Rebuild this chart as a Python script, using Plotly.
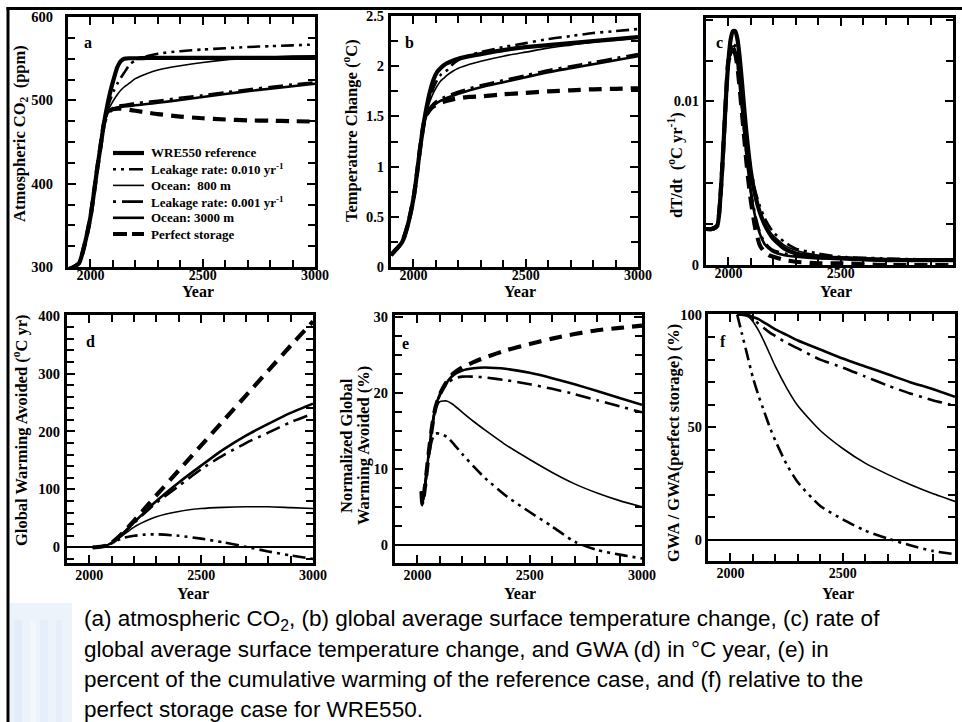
import plotly.graph_objects as go

W, H = 962, 722

# ---------------- data ----------------
YEARS_A = [1900, 1925, 1950, 1975, 2000, 2015, 2030, 2045, 2060, 2075, 2090, 2105, 2120, 2135,
           2150, 2175, 2200, 2250, 2300, 2400, 2500, 2600, 2700, 2800, 2900, 3000]
a_early = [297, 300, 305, 328, 360, 388, 418, 445, 472]
a_ref = a_early + [494, 512, 527, 540, 547, 550, 550.5, 550.5, 551, 551, 551, 551, 551, 551, 551, 551, 551]
a_leak010 = a_early + [490, 502, 512, 520, 527, 533, 543, 548, 553, 556, 559, 561, 562.5, 564, 565, 566, 567]
a_ocean800 = a_early + [486, 494, 501, 507, 512, 516, 521, 526, 532, 536.5, 541.5, 545.5, 548.5, 550.5, 552, 553, 553.5]
a_leak001 = a_early + [484, 489, 491.5, 493, 494, 494.5, 495.5, 496.5, 498, 499.5, 503, 506, 509.5, 513, 516, 519, 521.5]
a_ocean3000 = a_early + [484, 488.5, 490.5, 491.5, 492, 492.5, 493.2, 494, 495.5, 497, 500.5, 504, 507.5, 511, 514, 517, 520]
a_perfect = a_early + [483, 488, 489.5, 490, 490, 489.5, 488.5, 487.5, 485.5, 483.5, 480.5, 478.5, 477, 476, 475.5, 475, 474.5]

YEARS_B = YEARS_A
b_early = [0.12, 0.18, 0.25, 0.42, 0.68, 0.92, 1.19, 1.42]
b_ref = b_early + [1.61, 1.76, 1.87, 1.94, 1.98, 2.01, 2.03, 2.055, 2.075, 2.10, 2.12, 2.16, 2.19, 2.21, 2.23, 2.25, 2.27, 2.29]
b_leak010 = b_early + [1.57, 1.69, 1.79, 1.86, 1.91, 1.94, 1.96, 2.02, 2.06, 2.11, 2.14, 2.19, 2.23, 2.27, 2.30, 2.33, 2.35, 2.37]
b_ocean800 = b_early + [1.56, 1.66, 1.74, 1.80, 1.85, 1.88, 1.91, 1.95, 1.98, 2.02, 2.05, 2.10, 2.14, 2.18, 2.21, 2.24, 2.26, 2.28]
b_leak001 = b_early + [1.53, 1.59, 1.63, 1.655, 1.675, 1.69, 1.705, 1.725, 1.745, 1.78, 1.81, 1.86, 1.91, 1.96, 2.00, 2.04, 2.08, 2.12]
b_ocean3000 = b_early + [1.52, 1.575, 1.61, 1.635, 1.655, 1.67, 1.685, 1.705, 1.725, 1.76, 1.79, 1.84, 1.89, 1.94, 1.98, 2.02, 2.06, 2.10]
b_perfect = b_early + [1.52, 1.57, 1.60, 1.62, 1.635, 1.645, 1.655, 1.67, 1.68, 1.695, 1.70, 1.72, 1.735, 1.75, 1.76, 1.77, 1.775, 1.78]

YEARS_C = [1900, 1925, 1950, 1960, 1970, 1980, 1990, 2000, 2010, 2020, 2030, 2040, 2050, 2060, 2070,
           2080, 2090, 2100, 2120, 2140, 2160, 2180, 2200, 2250, 2300, 2400, 2500, 2700, 3000]
c_early = [0.0022, 0.0022, 0.0024, 0.0034, 0.0054, 0.0079, 0.0105, 0.0125]
c_ref = c_early + [0.0138, 0.0143, 0.0143, 0.0138, 0.0127, 0.0112, 0.0096, 0.0081, 0.0068, 0.0057, 0.0042,
                   0.0032, 0.0025, 0.0020, 0.0016, 0.0010, 0.0007, 0.0005, 0.0004, 0.0003, 0.0003]
c_leak010 = c_early + [0.0131, 0.0135, 0.0134, 0.0128, 0.0117, 0.0104, 0.0091, 0.0079, 0.0068, 0.0059, 0.0045,
                       0.0036, 0.0029, 0.0024, 0.0020, 0.0014, 0.0010, 0.0007, 0.0005, 0.0004, 0.0003]
c_ocean800 = c_early + [0.0130, 0.0134, 0.0132, 0.0126, 0.0114, 0.0101, 0.0088, 0.0075, 0.0064, 0.0055, 0.0041,
                        0.0032, 0.0026, 0.0021, 0.0018, 0.0012, 0.0009, 0.0006, 0.0005, 0.0004, 0.0003]
c_leak001 = c_early + [0.0129, 0.0132, 0.0130, 0.0123, 0.0111, 0.0097, 0.0082, 0.0068, 0.0056, 0.0045, 0.0030,
                       0.0020, 0.0014, 0.0011, 0.0009, 0.0007, 0.0006, 0.0005, 0.0004, 0.0003, 0.0003]
c_ocean3000 = c_early + [0.0129, 0.0132, 0.0130, 0.0123, 0.0110, 0.0096, 0.0081, 0.0067, 0.0055, 0.0044, 0.0029,
                         0.0019, 0.0013, 0.0010, 0.0008, 0.0006, 0.0005, 0.0004, 0.0004, 0.0003, 0.0003]
c_perfect = c_early + [0.0128, 0.0131, 0.0129, 0.0121, 0.0108, 0.0093, 0.0078, 0.0063, 0.0050, 0.0039, 0.0022,
                       0.0012, 0.0008, 0.0006, 0.0005, 0.0003, 0.0002, 0.0001, 0.0001, 0.0000, 0.0000]

YEARS_D = [2015, 2050, 2075, 2100, 2125, 2150, 2200, 2250, 2300, 2400, 2500, 2600, 2700, 2800, 2900, 3000]
d_perfect = [0, 1, 3, 8, 16, 25, 46, 68, 90, 133, 176, 219, 262, 305, 348, 390]
d_ocean3000 = [0, 1, 3, 8, 15.5, 24, 43, 62, 80, 112, 141, 169, 193, 213, 232, 248]
d_leak001 = [0, 1, 3, 8, 15.5, 24, 42, 60, 77, 106, 135, 159, 180, 198, 216, 231]
d_ocean800 = [0, 1, 3, 8, 14, 21, 35, 45, 53, 62, 67, 69, 70, 70, 68.5, 67]
d_leak010 = [0, 1, 3, 7, 12, 16, 20, 22, 22.5, 20, 15, 8.5, 1, -7, -14, -20]

YEARS_E = [2018, 2022, 2035, 2050, 2065, 2080, 2100, 2130, 2160, 2200, 2250, 2300, 2400, 2500, 2600,
           2700, 2800, 2900, 3000]
e_perfect = [7, 5.3, 8, 12, 15.5, 18, 19.8, 21.4, 22.5, 23.3, 24, 24.6, 25.6, 26.4, 27.1, 27.7, 28.2, 28.5, 28.8]
e_ocean3000 = [7, 5.3, 8, 12, 15.5, 18, 19.8, 21.3, 22.3, 22.9, 23.2, 23.3, 23.1, 22.6, 21.9, 21.1, 20.2, 19.3, 18.4]
e_leak001 = [7, 5.3, 8, 12, 15.5, 18, 19.7, 21.1, 21.8, 22.1, 22.1, 22.0, 21.6, 21.1, 20.5, 19.8, 19.0, 18.2, 17.4]
e_ocean800 = [7, 5.3, 8, 12, 15.3, 17.6, 18.8, 18.9, 18.4, 17.4, 16.2, 15.1, 13.0, 11.2, 9.5, 8.0, 6.8, 5.8, 5.0]
e_leak010 = [7, 5.3, 8, 11.5, 13.8, 14.6, 14.6, 14.2, 13.3, 11.9, 10.3, 8.8, 6.3, 4.3, 2.4, 0.4, -0.7, -1.3, -1.8]

YEARS_F = [2030, 2050, 2075, 2100, 2125, 2150, 2175, 2200, 2250, 2300, 2400, 2500, 2600, 2700, 2800, 2900, 3000]
f_ocean3000 = [100, 100, 100, 99, 98, 96.5, 95, 93.5, 91, 88.5, 84.5, 80.5, 77, 73.5, 70, 67, 63.5]
f_leak001 = [100, 100, 99.5, 98, 96, 94, 92, 90.5, 87.5, 85, 80, 76.5, 72.5, 68.5, 65, 62, 59.5]
f_ocean800 = [100, 100, 99.5, 97, 93, 88, 82.5, 77, 67.5, 59.5, 48.5, 40.5, 34, 29, 24.5, 20.5, 17]
f_leak010 = [100, 92, 82, 72, 64, 57, 50, 44, 33.5, 25.5, 15, 9, 4, 0.5, -2.5, -5, -6.5]

SERIES_NAMES = ["WRE550 reference", "Leakage rate: 0.010 yr<sup>-1</sup>", "Ocean:  800 m",
                "Leakage rate: 0.001 yr<sup>-1</sup>", "Ocean: 3000 m", "Perfect storage"]
X_TICKS = [2000, 2500, 3000]

CAPTION = [
    "(a) atmospheric CO<sub>2</sub>, (b) global average surface temperature change, (c) rate of",
    "global average surface temperature change, and GWA (d) in \u00b0C year, (e) in",
    "percent of the cumulative warming of the reference case, and (f) relative to the",
    "perfect storage case for WRE550.",
]

# ---------------- styles ----------------
STYLE = {
    "ref": dict(color="black", width=4.2, dash="solid"),
    "leak010": dict(color="black", width=2.6, dash="13px,5px,3px,5px,3px,5px"),
    "ocean800": dict(color="black", width=1.6, dash="solid"),
    "leak001": dict(color="black", width=2.6, dash="15px,6px,3px,6px"),
    "ocean3000": dict(color="black", width=2.6, dash="solid"),
    "perfect": dict(color="black", width=4.2, dash="13px,8px"),
}
LEGEND_DASH = {
    "ref": "solid", "leak010": "3px,5px,3px,5px,14px,5px", "ocean800": "solid",
    "leak001": "3px,6px,21px,6px", "ocean3000": "solid", "perfect": "14px,5px",
}
ORDER = ["ref", "leak010", "ocean800", "leak001", "ocean3000", "perfect"]

def px(x):
    return x / W

def py(y):
    return 1 - y / H

SERIF = "Liberation Serif"
fig = go.Figure()

panels = {
    "a": dict(xd=(68, 315), yd=(17, 267), yr=[300, 600], dt=100, t0=300, mdt=25, so=9, xso=-7,
              x=YEARS_A, data=dict(ref=a_ref, leak010=a_leak010, ocean800=a_ocean800,
                                   leak001=a_leak001, ocean3000=a_ocean3000, perfect=a_perfect)),
    "b": dict(xd=(391, 638), yd=(16, 267), yr=[0, 2.5], dt=0.5, t0=0, mdt=0.25, so=1, xso=-7,
              x=YEARS_B, data=dict(ref=b_ref, leak010=b_leak010, ocean800=b_ocean800,
                                   leak001=b_leak001, ocean3000=b_ocean3000, perfect=b_perfect)),
    "c": dict(xd=(706, 953), yd=(18, 265), yr=[0, 0.0151], dt=None, t0=0, mdt=0.0025, so=1, xso=-7,
              x=YEARS_C, data=dict(ref=c_ref, leak010=c_leak010, ocean800=c_ocean800,
                                   leak001=c_leak001, ocean3000=c_ocean3000, perfect=c_perfect)),
    "d": dict(xd=(67, 313), yd=(315, 563), yr=[-27, 401], dt=100, t0=0, mdt=20, so=1, xso=-3,
              x=YEARS_D, data=dict(leak010=d_leak010, ocean800=d_ocean800,
                                   leak001=d_leak001, ocean3000=d_ocean3000, perfect=d_perfect)),
    "e": dict(xd=(395, 642), yd=(315, 563), yr=[-2.4, 30.2], dt=10, t0=0, mdt=2.5, so=1, xso=-3,
              x=YEARS_E, data=dict(leak010=e_leak010, ocean800=e_ocean800,
                                   leak001=e_leak001, ocean3000=e_ocean3000, perfect=e_perfect)),
    "f": dict(xd=(708, 955), yd=(314, 561), yr=[-9.5, 100.3], dt=50, t0=0, mdt=10, so=0, xso=-3,
              x=YEARS_F, data=dict(leak010=f_leak010, ocean800=f_ocean800,
                                   leak001=f_leak001, ocean3000=f_ocean3000)),
}

tickfont = dict(family=SERIF, size=14.5, color="black", weight="bold")
layout_axes = {}
for i, (key, p) in enumerate(panels.items()):
    n = "" if i == 0 else str(i + 1)
    xa, ya = "xaxis" + n, "yaxis" + n
    layout_axes[xa] = dict(
        domain=[px(p["xd"][0]), px(p["xd"][1])], range=[1900, 3000], anchor="y" + n,
        showline=True, linewidth=3, linecolor="black", mirror="ticks",
        ticks="inside", ticklen=8, tickwidth=2, tickcolor="black",
        tickmode="array", tickvals=X_TICKS, ticktext=[str(v) for v in X_TICKS],
        minor=dict(ticks="inside", tickmode="linear", tick0=1900, dtick=100, ticklen=7,
                   tickwidth=2, tickcolor="black"),
        tickfont=dict(tickfont, size=14), ticklabelstandoff=p["xso"], showgrid=False, zeroline=False,
        fixedrange=True, automargin=False)
    yax = dict(
        domain=[py(p["yd"][1]), py(p["yd"][0])], range=p["yr"], anchor="x" + n,
        showline=True, linewidth=3, linecolor="black", mirror="ticks",
        ticks="inside", ticklen=8, tickwidth=2, tickcolor="black",
        minor=dict(ticks="inside", tickmode="linear", tick0=p["t0"], dtick=p["mdt"], ticklen=7,
                   tickwidth=2, tickcolor="black"),
        tickfont=tickfont, showgrid=False, ticklabelstandoff=p["so"],
        zeroline=key in ("d", "e", "f"), zerolinecolor="black", zerolinewidth=1.6,
        fixedrange=True, automargin=False)
    if p["dt"] is None:
        yax.update(tickmode="array", tickvals=[0, 0.01], ticktext=["0", "0.01"])
    else:
        yax.update(tickmode="linear", tick0=p["t0"], dtick=p["dt"])
    layout_axes[ya] = yax
    for s in ORDER:
        if s not in p["data"]:
            continue
        fig.add_trace(go.Scatter(
            x=p["x"], y=p["data"][s], mode="lines", xaxis="x" + n, yaxis="y" + n,
            line=dict(shape="spline", smoothing=0.6, **STYLE[s]),
            name=SERIES_NAMES[ORDER.index(s)], showlegend=False, hoverinfo="skip"))

ann = []
def text(x, y, t, size=16.5, angle=0, xanchor="center", family=SERIF, bold=True):
    ann.append(dict(x=px(x), y=py(y), xref="paper", yref="paper", text=t, showarrow=False,
                    textangle=angle, xanchor=xanchor, yanchor="middle",
                    font=dict(family=family, size=size, color="black",
                              weight="bold" if bold else "normal")))

shapes = []
# legend of panel a (drawn as key samples + labels)
for i, s in enumerate(ORDER):
    yy = 153 + 16.2 * i
    shapes.append(dict(type="line", xref="paper", yref="paper", x0=px(113), x1=px(144),
                       y0=py(yy), y1=py(yy),
                       line=dict(color="black", width=STYLE[s]["width"], dash=LEGEND_DASH[s])))
    text(149, yy, SERIES_NAMES[i], size=13, xanchor="left")

# panel letters
for t, x, y in [("a", 88, 43), ("b", 409, 43), ("c", 719, 43), ("d", 90, 342), ("e", 405, 343), ("f", 723, 341)]:
    text(x, y, t, size=16)
# x titles
for x, y in [(198, 291), (520, 291), (836, 291), (193, 593), (520, 593), (838, 593)]:
    text(x, y, "Year", size=16)
# y titles
text(20, 134, "Atmospheric CO<sub>2</sub>\u00a0 (ppm)", angle=-90)
text(351, 131, "Temperature Change (<sup>o</sup>C)", angle=-90)
text(675, 165, "dT/dt\u00a0 (<sup>o</sup>C yr<sup>-1</sup>)", angle=-90)
text(20, 430, "Global Warming Avoided (<sup>o</sup>C yr)", angle=-90)
text(346, 446, "Normalized Global", angle=-90)
text(363, 446, "Warming Avoided (%)", angle=-90)
text(673, 443, "GWA / GWA(perfect storage) (%)", angle=-90)
# caption
for i, line in enumerate(CAPTION):
    text(82, 620 + 29.7 * i, line, size=22.5, xanchor="left", family="Liberation Sans, Arial", bold=False)

# slide decoration at bottom-left
shapes.append(dict(type="rect", xref="paper", yref="paper", x0=px(10), x1=px(72), y0=py(722), y1=py(603),
                   fillcolor="rgba(222,234,248,0.55)", line=dict(width=0), layer="below"))
for x0, x1, c in [(14, 22, "rgba(205,222,242,0.3)"), (30, 36, "rgba(242,247,252,0.8)"),
                  (40, 48, "rgba(210,226,244,0.25)"), (56, 62, "rgba(216,230,246,0.3)")]:
    shapes.append(dict(type="rect", xref="paper", yref="paper", x0=px(x0), x1=px(x1), y0=py(722), y1=py(620),
                       fillcolor=c, line=dict(width=0), layer="below"))
# slide frame
shapes.append(dict(type="line", xref="paper", yref="paper", x0=px(8), x1=px(8), y0=py(722), y1=py(7),
                   line=dict(color="black", width=3)))
shapes.append(dict(type="line", xref="paper", yref="paper", x0=px(6.5), x1=px(962), y0=py(8.5), y1=py(8.5),
                   line=dict(color="black", width=3)))

fig.update_layout(
    template="none",
    width=W, height=H, margin=dict(l=0, r=0, t=0, b=0, pad=0),
    paper_bgcolor="white", plot_bgcolor="white",
    showlegend=False,
    annotations=ann, shapes=shapes, **layout_axes)

fig.write_html("out.html", config={"displayModeBar": False},
               post_script="document.body.style.margin='0px';document.body.style.overflow='hidden';")
